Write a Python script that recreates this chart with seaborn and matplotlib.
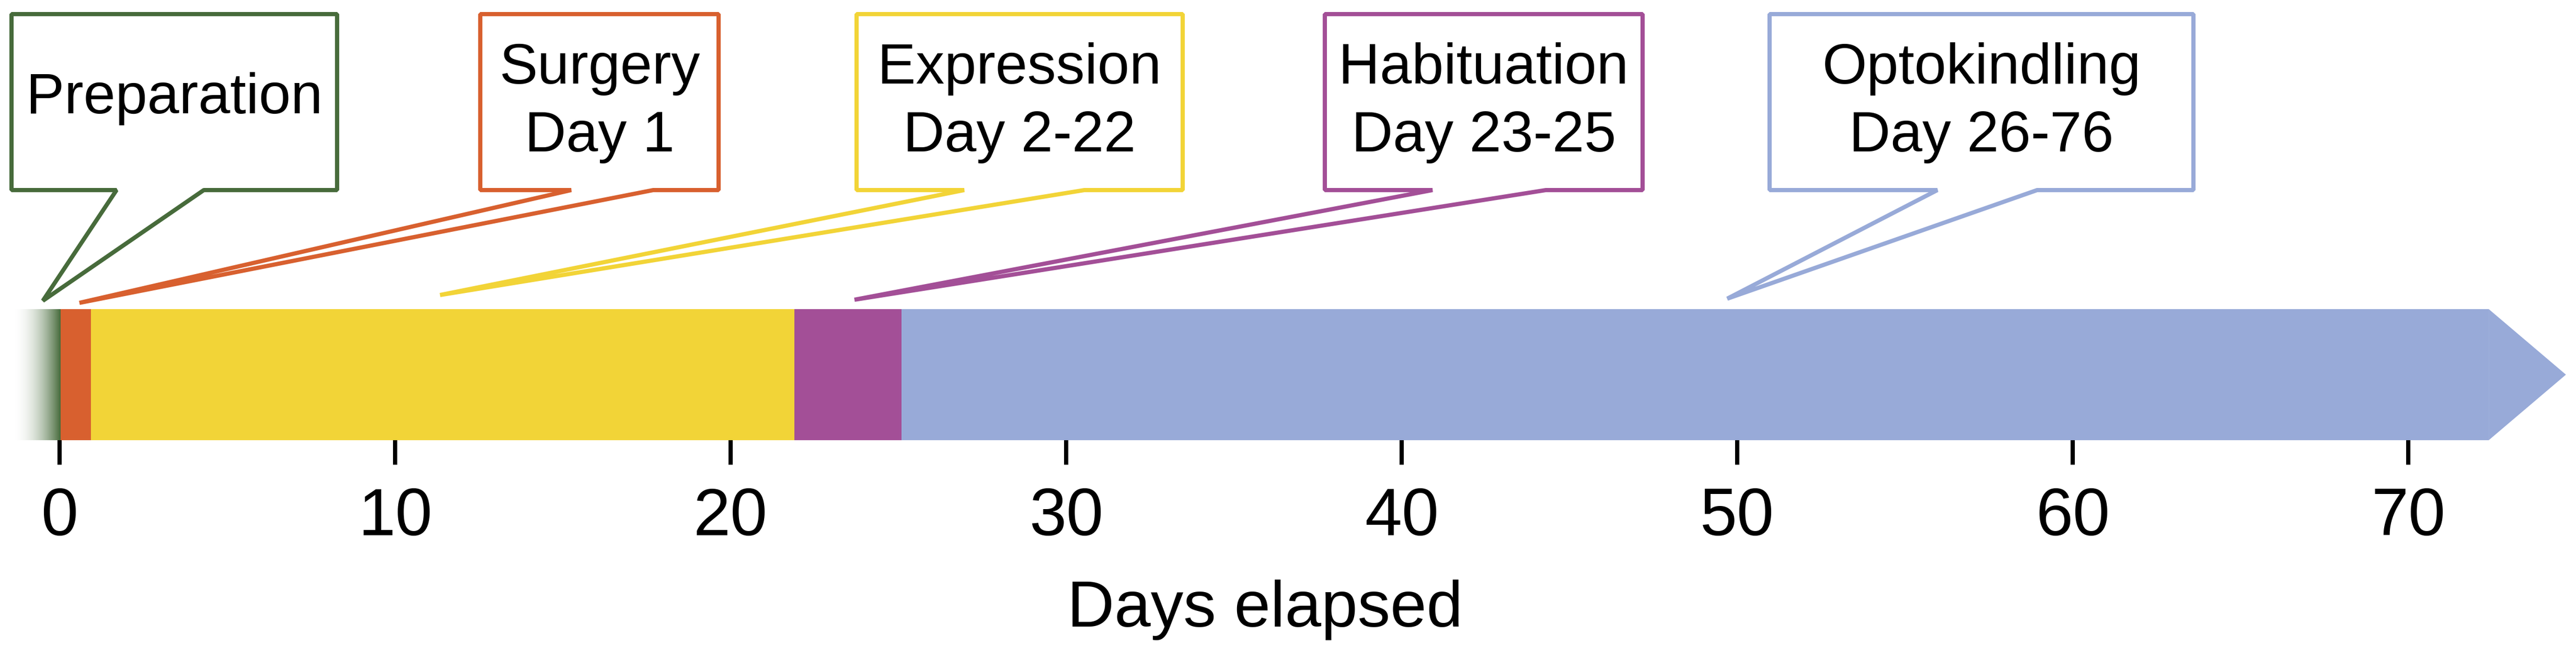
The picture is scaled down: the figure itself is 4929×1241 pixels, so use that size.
import numpy as np
import pandas as pd
import matplotlib
matplotlib.use("Agg")
import matplotlib.pyplot as plt
from matplotlib.colors import LinearSegmentedColormap
from matplotlib.patches import Polygon
import seaborn as sns

# ---------------- data ----------------
phases = ["Preparation", "Surgery", "Expression", "Habituation", "Optokindling"]
day_ranges = ["", "Day 1", "Day 2-22", "Day 23-25", "Day 26-76"]
phase_start = [-1.4, 0.03, 0.93, 21.9, 25.1]
phase_end = [0.03, 0.93, 21.9, 25.1, 72.4]
arrow_tip_day = 74.7
phase_colors = ["#476B3B", "#D8602F", "#F2D437", "#A34F97", "#98AAD8"]
xticks = [0, 10, 20, 30, 40, 50, 60, 70]
xlabel = "Days elapsed"

df = pd.DataFrame({"phase": phases, "start": phase_start, "end": phase_end,
                   "color": phase_colors, "days": day_ranges})

# ---------------- layout (pixels of the 4929x1241 canvas) ----------------
W, H, DPI = 4929, 1241, 100
X0, PX_PER_DAY = 114.0, 64.2       # pixel of day 0, pixels per day
BAR_BOTTOM_PX, BAR_TOP_PX = 843, 592
# callout boxes: left, right, wedge base a, wedge base b, tip x, tip y
callouts = {
    "Preparation":  (22, 645, 223, 390, 82, 576),
    "Surgery":      (919, 1375, 1093, 1250, 152, 580),
    "Expression":   (1639, 2263, 1845, 2075, 842, 565),
    "Habituation":  (2535, 3143, 2741, 2958, 1635, 574),
    "Optokindling": (3386, 4197, 3707, 3898, 3305, 572),
}
BOX_TOP, BOX_BOTTOM = 27, 364
LINE1_BASE, LINE2_BASE, SINGLE_BASE = 160, 290, 217
CALLOUT_FS, TICK_FS, LABEL_FS = 79, 92, 90


def dx(px):
    return (px - X0) / PX_PER_DAY


def dy(py):
    return BAR_BOTTOM_PX - py


sns.set_theme(style="white")
plt.rcParams["font.family"] = ["Liberation Sans", "DejaVu Sans"]

fig = plt.figure(figsize=(W / DPI, H / DPI), dpi=DPI)
ax = fig.add_axes([0, (H - BAR_BOTTOM_PX) / H, 1, BAR_BOTTOM_PX / H])
ax.set_xlim(dx(0), dx(W))
ax.set_ylim(0, BAR_BOTTOM_PX)
bar_h = BAR_BOTTOM_PX - BAR_TOP_PX

# preparation: gradient fade
cmap = LinearSegmentedColormap.from_list("prep", ["#FFFFFF", df.color[0]])
grad = (np.linspace(0, 1, 512) ** 2.0).reshape(1, -1)
ax.imshow(grad, cmap=cmap, aspect="auto", interpolation="bilinear",
          extent=[df.start[0], df.end[0], 0, bar_h], zorder=2)

# other phases as horizontal bar segments
seg = df.iloc[1:]
ax.barh(y=[bar_h / 2] * len(seg), width=seg.end - seg.start, left=seg.start,
        height=bar_h, color=seg.color, edgecolor="none", zorder=2)
# arrow head on last phase
last = df.iloc[-1]
ax.add_patch(Polygon([(last.end, 0), (arrow_tip_day, bar_h / 2), (last.end, bar_h)],
                     closed=True, facecolor=last.color, edgecolor="none", zorder=2))

# callouts
for _, r in df.iterrows():
    L, R, a, b, tx, ty = callouts[r.phase]
    pts = [(L, BOX_TOP), (R, BOX_TOP), (R, BOX_BOTTOM), (b, BOX_BOTTOM), (tx, ty),
           (a, BOX_BOTTOM), (L, BOX_BOTTOM)]
    pts = [(dx(x), dy(y)) for x, y in pts]
    ax.add_patch(Polygon(pts, closed=True, facecolor="white", edgecolor=r.color,
                         linewidth=5.8, joinstyle="bevel", zorder=3, clip_on=False))
    cx = dx((L + R) / 2)
    if r.days:
        ax.text(cx, dy(LINE1_BASE), r.phase, ha="center", va="baseline",
                fontsize=CALLOUT_FS, color="black", zorder=4)
        ax.text(cx, dy(LINE2_BASE), r.days, ha="center", va="baseline",
                fontsize=CALLOUT_FS, color="black", zorder=4)
    else:
        ax.text(cx, dy(SINGLE_BASE), r.phase, ha="center", va="baseline",
                fontsize=CALLOUT_FS, color="black", zorder=4)

# axes styling
ax.set_xticks(xticks)
ax.set_xticklabels([str(t) for t in xticks])
ax.set_yticks([])
ax.tick_params(axis="x", direction="out", length=34, width=5.8, pad=30,
               labelsize=TICK_FS, colors="black", bottom=True)
sns.despine(ax=ax, left=True, bottom=True, top=True, right=True)
ax.set_xlabel(xlabel, fontsize=LABEL_FS, color="black")
ax.xaxis.set_label_coords(2421 / W, (BAR_BOTTOM_PX - 1110) / BAR_BOTTOM_PX)
ax.xaxis.label.set_va("top")
ax.patch.set_alpha(0)
ax.grid(False)

fig.savefig("out.png", dpi=DPI, facecolor="white")
